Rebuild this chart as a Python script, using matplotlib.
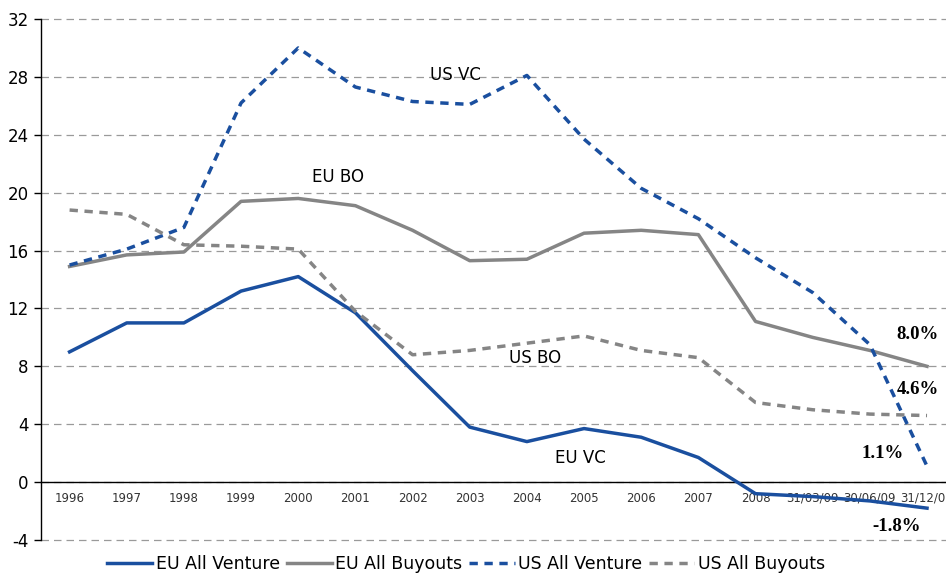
import matplotlib
matplotlib.use("Agg")
from matplotlib import pyplot as plt
import numpy as np

plt.rcParams['axes.unicode_minus'] = False

periods = ['1996', '1997', '1998', '1999', '2000', '2001', '2002', '2003', '2004',
           '2005', '2006', '2007', '2008', '31/03/09', '30/06/09', '31/12/09']
eu_venture = [9.0, 11.0, 11.0, 13.2, 14.2, 11.7, 7.7, 3.8, 2.8, 3.7, 3.1, 1.7, -0.8, -1.0, -1.3, -1.8]
eu_buyouts = [14.9, 15.7, 15.9, 19.4, 19.6, 19.1, 17.4, 15.3, 15.4, 17.2, 17.4, 17.1, 11.1, 10.0, 9.1, 8.0]
us_venture = [15.0, 16.1, 17.6, 26.2, 30.0, 27.3, 26.3, 26.1, 28.1, 23.7, 20.3, 18.2, 15.5, 13.1, 9.5, 1.1]
us_buyouts = [18.8, 18.5, 16.4, 16.3, 16.1, 11.8, 8.8, 9.1, 9.6, 10.1, 9.1, 8.6, 5.5, 5.0, 4.7, 4.6]

BLUE = '#1a4f9f'
GRAY = '#858585'

fig = plt.figure(figsize=(9.46, 5.78), dpi=100)
ax = fig.add_axes([41/946, 38/578, 914.6/946, 521/578])

x = np.arange(len(periods))
ax.plot(x, eu_venture, color=BLUE, lw=2.5, label='EU All Venture')
ax.plot(x, eu_buyouts, color=GRAY, lw=2.5, label='EU All Buyouts')
ax.plot(x, us_venture, color=BLUE, lw=2.5, dashes=(2.4, 1.9), label='US All Venture')
ax.plot(x, us_buyouts, color=GRAY, lw=2.5, dashes=(2.4, 1.9), label='US All Buyouts')

ax.set_xlim(-0.5, len(periods) - 0.5)
ax.set_ylim(-4, 32)
ax.set_yticks(np.arange(-4, 33, 4))
ax.yaxis.grid(True, color='#9a9a9a', ls=(0, (6, 4)), lw=0.9)
for gl in ax.get_ygridlines():
    gl.set_clip_on(False)
ax.set_axisbelow(True)

for s in ['top', 'right']:
    ax.spines[s].set_visible(False)
ax.spines['bottom'].set_position(('data', 0))
ax.spines['bottom'].set_linewidth(1)
ax.spines['bottom'].set_zorder(1)
ax.spines['left'].set_linewidth(1)
ax.tick_params(axis='y', labelsize=12, length=5, width=1, pad=4)
ax.set_xticks(x)
ax.set_xticklabels(periods, fontsize=8.5, color='#333333')
ax.tick_params(axis='x', length=0, pad=7)

# series names on the chart
ax.text(6.75, 28.1, 'US VC', fontsize=12, ha='center', va='center')
ax.text(4.69, 21.1, 'EU BO', fontsize=12, ha='center', va='center')
ax.text(8.15, 8.6, 'US BO', fontsize=12, ha='center', va='center')
ax.text(8.93, 1.7, 'EU VC', fontsize=12, ha='center', va='center')

# latest values
bold = dict(fontsize=13.5, fontweight='bold', family='Liberation Serif', ha='center', va='center')
ax.text(14.84, 10.2, '%.1f%%' % eu_buyouts[-1], **bold)
ax.text(14.84, 6.4, '%.1f%%' % us_buyouts[-1], **bold)
ax.text(14.23, 2.0, '%.1f%%' % us_venture[-1], **bold)
ax.text(14.46, -3.1, '%.1f%%' % eu_venture[-1], **bold)

fig.legend(loc='lower center', bbox_to_anchor=(466/946, -0.018), ncol=4, frameon=False,
           fontsize=12.5, handlelength=2.6, columnspacing=0.4, handletextpad=0.2)

fig.savefig('out.png', dpi=100)
